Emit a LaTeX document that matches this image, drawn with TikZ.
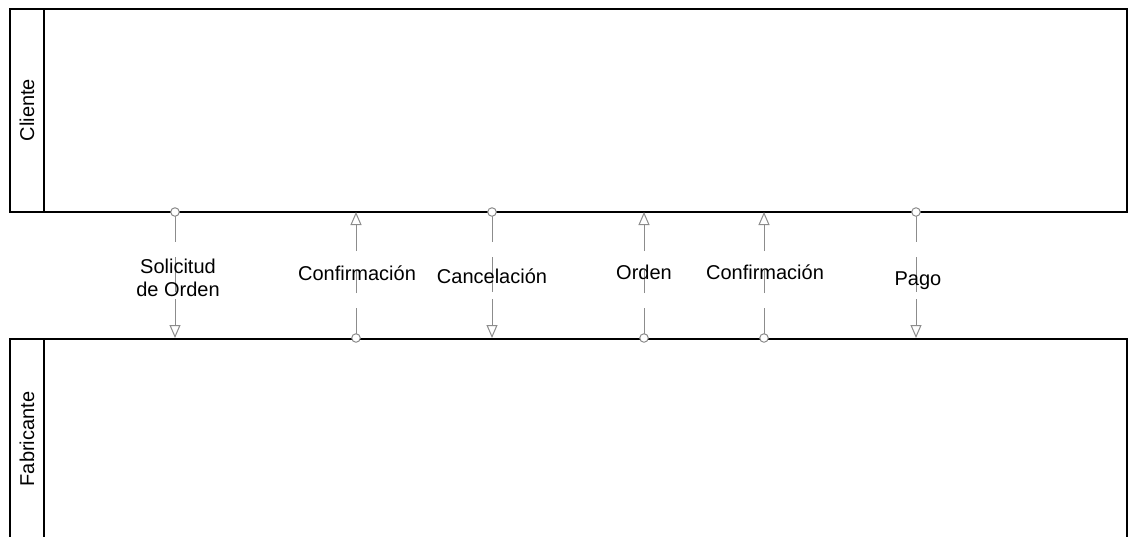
\documentclass[tikz,border=0pt]{standalone}
\usepackage{fontspec}
\setmainfont{Liberation Sans}
\usetikzlibrary{arrows.meta}
\begin{document}
\begin{tikzpicture}[x=1pt,y=-1pt,
  lane/.style={draw=black,line width=2pt},
  conn/.style={draw=black!45,line width=1pt},
  tipend/.style={-{Triangle[open,length=13pt,width=11pt,fill=white]}},
  dot/.style={circle,draw=black!45,line width=1pt,fill=white,inner sep=0pt,minimum size=8.5pt},
  lbl/.style={font=\fontsize{20}{23}\selectfont,inner sep=0pt,anchor=base},
  lanelbl/.style={font=\fontsize{20}{23}\selectfont,inner sep=0pt,rotate=90}
]
\useasboundingbox (0,0) rectangle (1128,536);
\clip (0,0) rectangle (1128,536);
% lanes
\draw[lane] (10,9) rectangle (1127,212);
\draw[lane] (44,9) -- (44,212);
\node[lanelbl] (cliente) at (27,110) {Cliente};
\draw[lane] (10,560) -- (10,339) -- (1127,339) -- (1127,560);
\draw[lane] (44,339) -- (44,560);
\node[lanelbl] (fabricante) at (27,439) {Fabricante};
% connector coordinates
\foreach \i/\x in {1/175,2/356,3/492,4/644,5/764,6/916}{
  \coordinate (t\i) at (\x,212);
  \coordinate (b\i) at (\x,338);
}
% down connectors (Cliente -> Fabricante)
\foreach \i in {1,3,6}{
  \draw[conn] (t\i) -- ([shift={(0,30)}]t\i);
  \draw[conn] ([shift={(0,45)}]t\i) -- ([shift={(0,80)}]t\i);
  \draw[conn,tipend] ([shift={(0,87)}]t\i) -- (b\i);
  \node[dot] at (t\i) {};
}
% up connectors (Fabricante -> Cliente)
\foreach \i in {2,4,5}{
  \draw[conn] (b\i) -- ([shift={(0,-30)}]b\i);
  \draw[conn] ([shift={(0,-45)}]b\i) -- ([shift={(0,-68)}]b\i);
  \draw[conn,tipend] ([shift={(0,-87)}]b\i) -- (t\i);
  \node[dot] at (b\i) {};
}
% labels
\node[lbl] (l1a) at (178,273) {Solicitud};
\node[lbl] (l1b) at (178,296) {de Orden};
\node[lbl] (l2) at (357,280) {Confirmación};
\node[lbl] (l3) at (492,283) {Cancelación};
\node[lbl] (l4) at (644,279) {Orden};
\node[lbl] (l5) at (765,279) {Confirmación};
\node[lbl] (l6) at (918,285) {Pago};
\end{tikzpicture}
\end{document}
